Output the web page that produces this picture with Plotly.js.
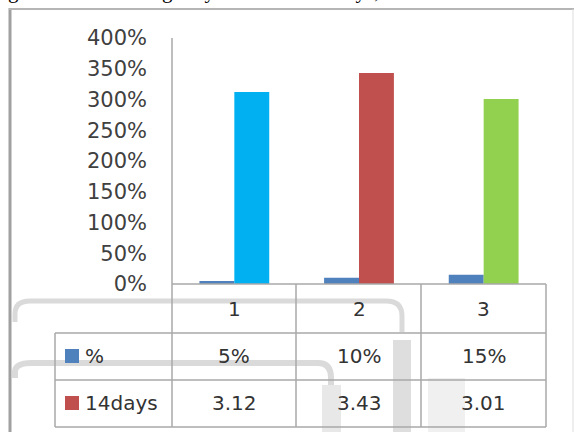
<!DOCTYPE html>
<html>
<head>
<meta charset="utf-8">
<script src="https://cdn.plot.ly/plotly-3.0.1.min.js"></script>
<style>html,body{margin:0;padding:0;background:#fff;}#chart{width:574px;height:432px;}</style>
</head>
<body>
<div id="chart"></div>
<script>
// ---- data ----
var categories = ['1', '2', '3'];
var pctValues = [0.05, 0.10, 0.15];
var dayValues = [3.12, 3.43, 3.01];
var pctName = '%';
var dayName = '14days';
var yTickVals = [0, 0.5, 1, 1.5, 2, 2.5, 3, 3.5, 4];
var captionText = 'gher flexural strength by the end of 14 days, also';

// ---- styling / geometry ----
var W = 574, H = 432;
var L = 172, R = 546, T = 38, B = 284;
function px(x) { return (x - L) / (R - L); }
function py(y) { return (B - y) / (B - T); }
var lineCol = '#a9a9a9';
var textCol = '#333333';
var fontFam = 'DejaVu Sans, sans-serif';
var fs = 20;
var dayColors = ['#00B0F0', '#C0504D', '#92D050'];
var pctColor = '#4F81BD';

var xIdx = categories.map(function (c, i) { return i; });

var traces = [
  { type: 'bar', x: xIdx, y: pctValues, name: pctName, marker: { color: pctColor }, hoverinfo: 'none' },
  { type: 'bar', x: xIdx, y: dayValues, name: dayName, marker: { color: dayColors }, hoverinfo: 'none' }
];

var shapes = [];
var annotations = [];
function hline(y, x0, x1, col, w, layer) {
  shapes.push({ type: 'line', xref: 'paper', yref: 'paper', x0: px(x0), x1: px(x1), y0: py(y), y1: py(y),
    line: { color: col || lineCol, width: w || 1.5 }, layer: layer || 'above' });
}
function vline(x, y0, y1, col, w, layer) {
  shapes.push({ type: 'line', xref: 'paper', yref: 'paper', x0: px(x), x1: px(x), y0: py(y0), y1: py(y1),
    line: { color: col || lineCol, width: w || 1.5 }, layer: layer || 'above' });
}
function pathPx(pts) {
  var s = '';
  pts.forEach(function (p) {
    s += p[0];
    for (var i = 1; i < p.length; i += 2) {
      s += ' ' + px(p[i]).toFixed(5) + ',' + py(p[i + 1]).toFixed(5);
    }
    s += ' ';
  });
  return s;
}

// watermark-like background strokes (scan artifacts)
var wm = '#dadada';
shapes.push({ type: 'path', xref: 'paper', yref: 'paper', layer: 'below',
  path: pathPx([['M', 15, 322], ['L', 15, 314], ['Q', 15, 301, 30, 301], ['L', 386, 301], ['Q', 402, 301, 402, 316], ['L', 402, 332]]),
  line: { color: wm, width: 5 } });
shapes.push({ type: 'path', xref: 'paper', yref: 'paper', layer: 'below',
  path: pathPx([['M', 15, 378], ['L', 15, 372], ['Q', 15, 363, 32, 363], ['L', 318, 363], ['Q', 331, 363, 331, 378], ['L', 331, 432]]),
  line: { color: wm, width: 6 } });
shapes.push({ type: 'rect', xref: 'paper', yref: 'paper', layer: 'below',
  x0: px(322), x1: px(341), y0: py(385), y1: py(432), fillcolor: '#e8e8e8', line: { width: 0 } });
shapes.push({ type: 'rect', xref: 'paper', yref: 'paper', layer: 'below',
  x0: px(393), x1: px(411), y0: py(340), y1: py(432), fillcolor: '#dedede', line: { width: 0 } });
shapes.push({ type: 'rect', xref: 'paper', yref: 'paper', layer: 'below',
  x0: px(428), x1: px(465), y0: py(378), y1: py(432), fillcolor: '#f0f0f0', line: { width: 0 } });

// outer frame of the figure
vline(10, 8, 432, '#a0a0a0', 3);
hline(9, 9, 574, '#b5b5b5', 2);
vline(573, 9, 432, '#dddddd', 1);

// y axis line running down through the table
vline(L, T, 427);
// table grid
hline(B, L, R);
hline(333, 55, R);
hline(380, 55, R);
hline(427, 55, R);
vline(55, 333, 427);
vline(296, B, 427);
vline(421, B, 427);
vline(R, B, 427);

// header row: category labels
categories.forEach(function (c, i) {
  annotations.push({ xref: 'x', yref: 'paper', x: i, y: py(309), text: c, showarrow: false,
    xanchor: 'center', yanchor: 'middle', font: { family: fontFam, size: fs, color: textCol } });
});
// data rows
var rows = [
  { name: pctName, color: pctColor, texts: pctValues.map(function (v) { return Math.round(v * 100) + '%'; }), yc: 356 },
  { name: dayName, color: dayColors[1], texts: dayValues.map(function (v) { return v.toFixed(2); }), yc: 403 }
];
rows.forEach(function (r) {
  shapes.push({ type: 'rect', xref: 'paper', yref: 'paper', layer: 'above',
    x0: px(65), x1: px(79), y0: py(r.yc + 7), y1: py(r.yc - 7), fillcolor: r.color, line: { width: 0 } });
  annotations.push({ xref: 'paper', yref: 'paper', x: px(83), y: py(r.yc), text: r.name, showarrow: false,
    xanchor: 'left', yanchor: 'middle', font: { family: fontFam, size: fs, color: textCol } });
  r.texts.forEach(function (t, i) {
    annotations.push({ xref: 'x', yref: 'paper', x: i, y: py(r.yc), text: t, showarrow: false,
      xanchor: 'center', yanchor: 'middle', font: { family: fontFam, size: fs, color: textCol } });
  });
});

// clipped caption line from the page above
annotations.push({ xref: 'paper', yref: 'paper', x: px(6), y: py(5), text: captionText, showarrow: false,
  xanchor: 'left', yanchor: 'bottom', font: { family: 'Liberation Serif, serif', size: 21, color: '#000' } });

var layout = {
  width: W, height: H,
  margin: { l: L, r: W - R, t: T, b: H - B, pad: 0 },
  paper_bgcolor: '#ffffff', plot_bgcolor: '#ffffff',
  showlegend: false,
  barmode: 'group', bargap: 0.44, bargroupgap: 0,
  xaxis: { range: [-0.5, 2.5], showticklabels: false, ticks: '', showgrid: false, zeroline: false, showline: false, fixedrange: true },
  yaxis: { range: [0, 4], tickvals: yTickVals, tickformat: '.0%', showgrid: false, zeroline: false, showline: false,
    ticks: '', ticklabelstandoff: 24, tickfont: { family: fontFam, size: 21, color: '#404040' }, fixedrange: true },
  shapes: shapes,
  annotations: annotations
};

Plotly.newPlot('chart', traces, layout, { staticPlot: true, displayModeBar: false });
</script>
</body>
</html>
